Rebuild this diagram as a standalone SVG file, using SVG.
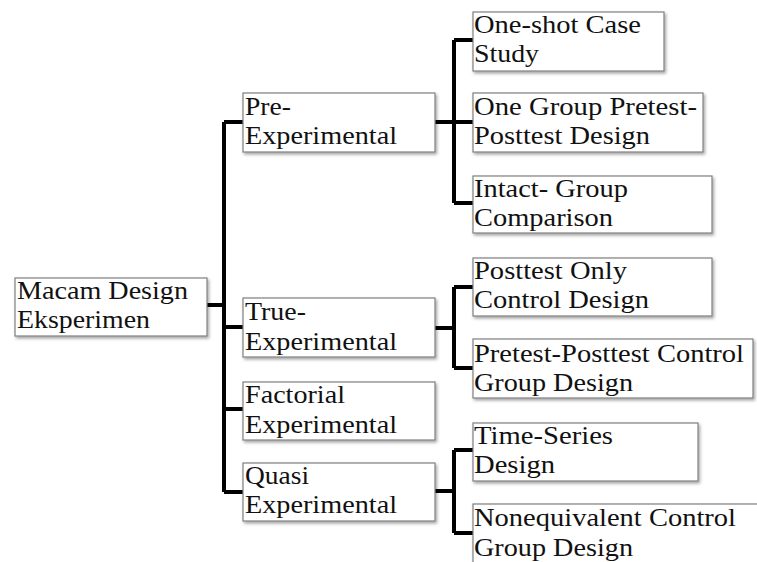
<svg xmlns="http://www.w3.org/2000/svg" width="757" height="562" viewBox="0 0 757 562">
<defs>
<filter id="sh" x="-10%" y="-20%" width="130%" height="150%">
<feDropShadow dx="1.5" dy="2" stdDeviation="1.5" flood-color="#000" flood-opacity="0.35"/>
</filter>
<style>
.box{fill:#fff;stroke:#7f7f7f;stroke-width:1.2;filter:url(#sh)}
.c{fill:none;stroke:#000;stroke-width:4;stroke-linejoin:miter;stroke-linecap:butt}
</style>
</defs>
<rect width="757" height="562" fill="#fff"/>
<g id="connectors">
<path class="c" d="M207 305H224M224 122V492M224 122H243M224 327H243M224 409H243M224 492H243"/>
<path class="c" d="M435 122H473M454 40V203M454 40H473M454 203H473"/>
<path class="c" d="M435 328H454M454 287V368M454 287H473M454 368H473"/>
<path class="c" d="M435 491H454M454 450V533M454 450H473M454 533H473"/>
</g>
<g font-family="Liberation Serif" font-size="25" fill="#111">
<g id="root"><rect class="box" x="15" y="278" width="192" height="58"/><text x="17" y="299" textLength="171" lengthAdjust="spacingAndGlyphs">Macam Design</text><text x="17" y="328" textLength="133" lengthAdjust="spacingAndGlyphs">Eksperimen</text></g>
<g id="pre"><rect class="box" x="243" y="93" width="192" height="59"/><text x="245" y="115" textLength="46" lengthAdjust="spacingAndGlyphs">Pre-</text><text x="245" y="144" textLength="152" lengthAdjust="spacingAndGlyphs">Experimental</text></g>
<g id="true"><rect class="box" x="243" y="298" width="192" height="59"/><text x="245" y="320" textLength="61" lengthAdjust="spacingAndGlyphs">True-</text><text x="245" y="350" textLength="152" lengthAdjust="spacingAndGlyphs">Experimental</text></g>
<g id="factorial"><rect class="box" x="243" y="382" width="192" height="58"/><text x="245" y="403" textLength="100" lengthAdjust="spacingAndGlyphs">Factorial</text><text x="245" y="433" textLength="152" lengthAdjust="spacingAndGlyphs">Experimental</text></g>
<g id="quasi"><rect class="box" x="243" y="463" width="192" height="58"/><text x="245" y="484" textLength="64" lengthAdjust="spacingAndGlyphs">Quasi</text><text x="245" y="513" textLength="152" lengthAdjust="spacingAndGlyphs">Experimental</text></g>
<g id="oneshot"><rect class="box" x="473" y="12" width="191" height="59"/><text x="474" y="33" textLength="167" lengthAdjust="spacingAndGlyphs">One-shot Case</text><text x="474" y="62" textLength="65" lengthAdjust="spacingAndGlyphs">Study</text></g>
<g id="onegroup"><rect class="box" x="473" y="93" width="230" height="59"/><text x="474" y="115" textLength="223" lengthAdjust="spacingAndGlyphs">One Group Pretest-</text><text x="474" y="144" textLength="176" lengthAdjust="spacingAndGlyphs">Posttest Design</text></g>
<g id="intact"><rect class="box" x="473" y="176" width="239" height="57"/><text x="474" y="197" textLength="154" lengthAdjust="spacingAndGlyphs">Intact- Group</text><text x="474" y="226" textLength="139" lengthAdjust="spacingAndGlyphs">Comparison</text></g>
<g id="posttestonly"><rect class="box" x="473" y="258" width="239" height="58"/><text x="474" y="279" textLength="153" lengthAdjust="spacingAndGlyphs">Posttest Only</text><text x="474" y="308" textLength="175" lengthAdjust="spacingAndGlyphs">Control Design</text></g>
<g id="pretestposttest"><rect class="box" x="473" y="339" width="280" height="59"/><text x="474" y="362" textLength="270" lengthAdjust="spacingAndGlyphs">Pretest-Posttest Control</text><text x="474" y="391" textLength="159" lengthAdjust="spacingAndGlyphs">Group Design</text></g>
<g id="timeseries"><rect class="box" x="473" y="423" width="225" height="58"/><text x="474" y="444" textLength="139" lengthAdjust="spacingAndGlyphs">Time-Series</text><text x="474" y="473" textLength="81" lengthAdjust="spacingAndGlyphs">Design</text></g>
<g id="nonequivalent"><rect class="box" x="473" y="504" width="300" height="70"/><text x="474" y="526" textLength="262" lengthAdjust="spacingAndGlyphs">Nonequivalent Control</text><text x="474" y="556" textLength="159" lengthAdjust="spacingAndGlyphs">Group Design</text></g>
</g>
</svg>
